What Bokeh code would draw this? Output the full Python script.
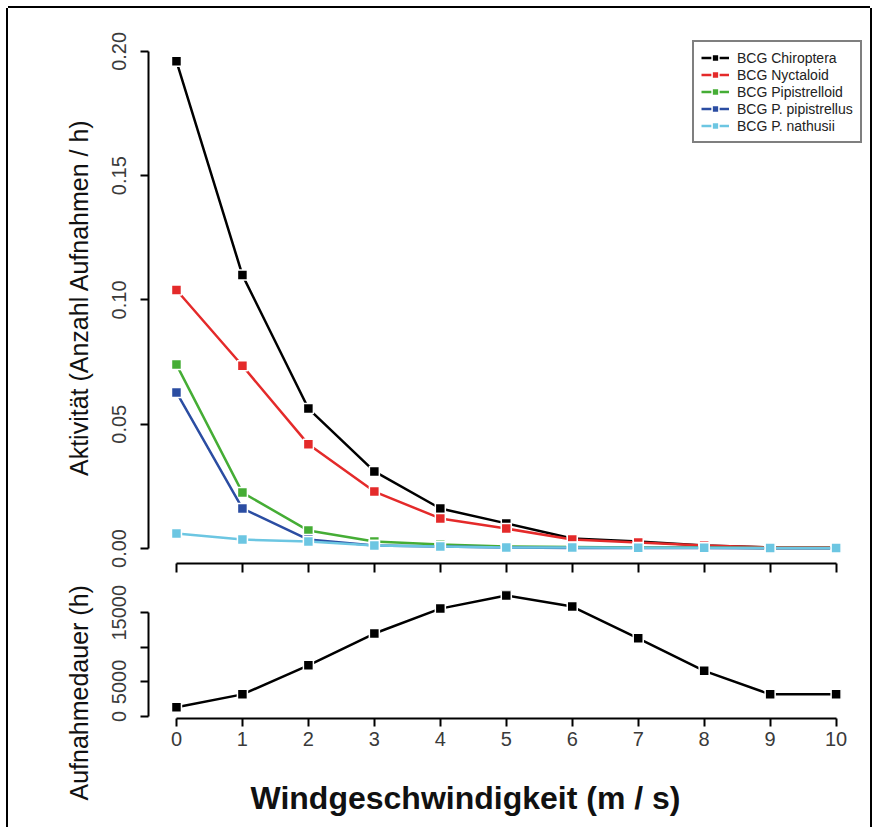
from bokeh.plotting import figure
from bokeh.layouts import column
from bokeh.models import Range1d, FixedTicker, Legend, LegendItem, NumeralTickFormatter, Title
from bokeh.embed import file_html
from bokeh.resources import INLINE

# ---------------- data ----------------
wind = [0, 1, 2, 3, 4, 5, 6, 7, 8, 9, 10]
chiroptera = [0.196, 0.110, 0.0563, 0.0310, 0.0161, 0.0101, 0.0040, 0.0028, 0.0012, 0.0004, 0.0003]
nyctaloid = [0.104, 0.0735, 0.0419, 0.0229, 0.0121, 0.0080, 0.0036, 0.0024, 0.0012, 0.0004, 0.0004]
pipistrelloid = [0.0740, 0.0225, 0.0072, 0.0028, 0.0016, 0.0008, 0.0006, 0.0004, 0.0004, 0.0002, 0.0002]
p_pipistrellus = [0.0628, 0.0161, 0.0036, 0.0012, 0.0008, 0.0004, 0.0002, 0.0002, 0.0002, 0.0001, 0.0001]
p_nathusii = [0.0060, 0.0036, 0.0028, 0.0012, 0.0008, 0.0004, 0.0004, 0.0003, 0.0003, 0.0002, 0.0002]
duration = [1350, 3200, 7400, 12000, 15600, 17500, 15900, 11300, 6600, 3200, 3200]

series_names = ["BCG Chiroptera", "BCG Nyctaloid", "BCG Pipistrelloid",
                "BCG P. pipistrellus", "BCG P. nathusii"]
series_values = [chiroptera, nyctaloid, pipistrelloid, p_pipistrellus, p_nathusii]
series_colors = ["#000000", "#e42a2a", "#45ad35", "#2b4da2", "#6cc6e2"]

top_yticks = [0, 0.05, 0.10, 0.15, 0.20]
bottom_yticks = [0, 5000, 10000, 15000]
bottom_ylabels = {0: "0", 5000: "5000", 10000: "", 15000: "15000"}

FONT = "Liberation Sans"
TICK_COLOR = "#3a3a3a"
LABEL_COLOR = "#111111"

def style_axis(ax):
    ax.axis_line_width = 2
    ax.axis_line_color = "black"
    ax.major_tick_line_width = 2
    ax.major_tick_line_color = "black"
    ax.major_tick_in = 0
    ax.major_tick_out = 8
    ax.minor_tick_line_color = None
    ax.major_label_text_font = FONT
    ax.major_label_text_font_size = "20px"
    ax.major_label_text_color = TICK_COLOR

def style_fig(f):
    f.grid.visible = False
    f.outline_line_color = None
    f.background_fill_color = "white"
    f.border_fill_color = "white"

# ---------------- top panel ----------------
top = figure(frame_width=714, frame_height=532, output_backend="svg", toolbar_location=None,
             title_location=None,
             x_range=Range1d(-0.424, 10.4), y_range=Range1d(-0.00604, 0.208),
             min_border_left=140, min_border_right=8, min_border_top=23, min_border_bottom=12)
style_fig(top)

items = []
for name, vals, col in zip(series_names, series_values, series_colors):
    lr = top.line(wind, vals, line_color=col, line_width=2.5)
    sr = top.scatter(wind, vals, marker="square", size=10, fill_color=col,
                     line_color="white", line_width=1.5)
    items.append(LegendItem(label=name, renderers=[lr, sr]))

xa = top.xaxis[0]
style_axis(xa)
xa.bounds = (0, 10)
xa.ticker = FixedTicker(ticks=wind)
xa.major_label_text_font_size = "1px"
xa.major_label_text_color = None
xa.major_label_standoff = 0
xa.major_tick_out = 9

ya = top.yaxis[0]
style_axis(ya)
ya.bounds = (0, 0.2)
ya.ticker = FixedTicker(ticks=top_yticks)
ya.formatter = NumeralTickFormatter(format="0.00")
ya.major_label_orientation = "vertical"
ya.major_label_standoff = 14
ya.axis_label = "Aktivität (Anzahl Aufnahmen / h)"
ya.axis_label_text_font = FONT
ya.axis_label_text_font_size = "25px"
ya.axis_label_text_font_style = "normal"
ya.axis_label_text_color = LABEL_COLOR
ya.axis_label_standoff = 17

legend = Legend(items=items, location=(544, 420), margin=0)
legend.border_line_color = "black"
legend.border_line_width = 2
legend.background_fill_color = "white"
legend.background_fill_alpha = 1
legend.padding = 7
legend.spacing = 0
legend.label_height = 17
legend.glyph_height = 17
legend.glyph_width = 28
legend.label_standoff = 8
legend.label_text_font = FONT
legend.label_text_font_size = "14px"
legend.label_text_color = "#222222"
top.add_layout(legend)

# ---------------- bottom panel ----------------
bot = figure(frame_width=714, frame_height=128, output_backend="svg", toolbar_location=None,
             title_location=None,
             x_range=Range1d(-0.424, 10.4), y_range=Range1d(-289, 18220),
             min_border_left=140, min_border_right=8, min_border_top=15, min_border_bottom=101)
style_fig(bot)

bot.line(wind, duration, line_color="black", line_width=2.5)
bot.scatter(wind, duration, marker="square", size=10, fill_color="black",
            line_color="white", line_width=1.5)

bxa = bot.xaxis[0]
style_axis(bxa)
bxa.bounds = (0, 10)
bxa.ticker = FixedTicker(ticks=wind)
bxa.major_label_standoff = 5

bya = bot.yaxis[0]
style_axis(bya)
bya.bounds = (0, 15000)
bya.ticker = FixedTicker(ticks=bottom_yticks)
bya.major_label_overrides = bottom_ylabels
bya.major_label_orientation = "vertical"
bya.major_label_standoff = 14

bot.add_layout(Title(text="Aufnahmedauer (h)", align="left", offset=-82,
                     text_font=FONT, text_font_size="25px", text_font_style="normal",
                     text_color=LABEL_COLOR, standoff=33), "left")
bot.add_layout(Title(text="Windgeschwindigkeit (m / s)", align="left", offset=102,
                     text_font=FONT, text_font_size="32px", text_font_style="bold",
                     text_color=LABEL_COLOR, standoff=59), "below")

layout = column(top, bot, styles={
    "margin-left": "8px", "margin-top": "8px",
    "box-shadow": "-2px 0 0 0 black, 2px 0 0 0 black, 0 -2px 0 0 black"})

open("out.html", "w").write(file_html(layout, INLINE))
